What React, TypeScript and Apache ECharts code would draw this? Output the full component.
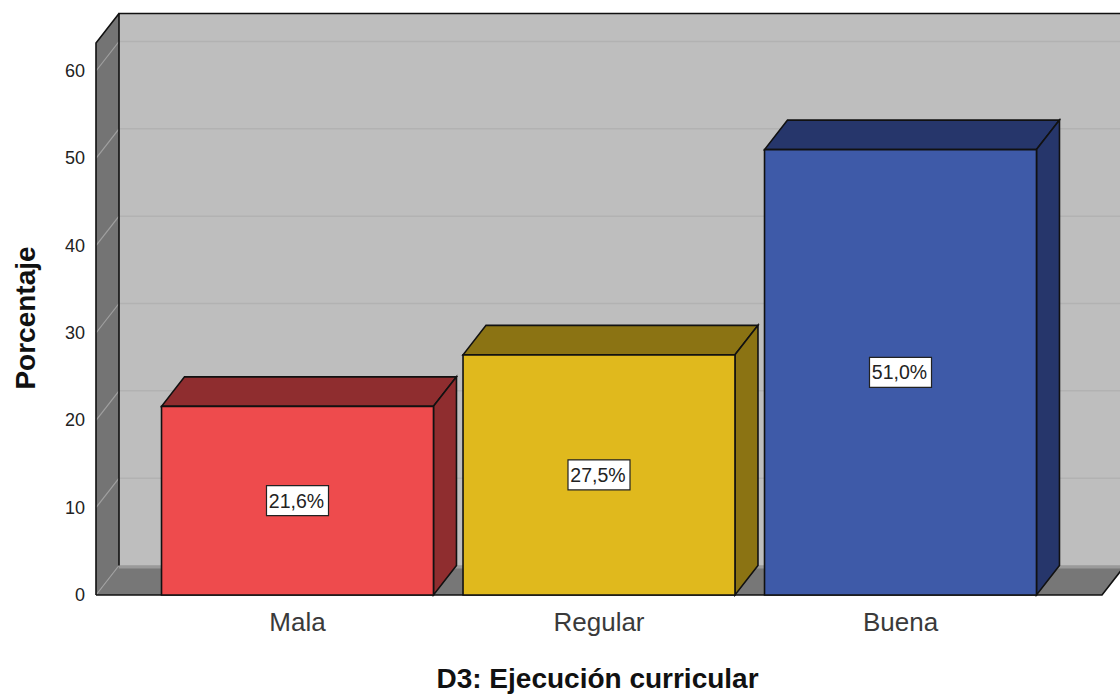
import React, { useEffect, useRef } from "react";
import * as echarts from "echarts";

const categories = ["Mala", "Regular", "Buena"];
const percentages = [21.6, 27.5, 51.0];
const yTicks = [0, 10, 20, 30, 40, 50, 60];
const frontColors = ["#EE4B4D", "#E0B91D", "#3E5AA8"];
const shadeColors = ["#8F2D2F", "#8B7313", "#26366B"];

const DX = 23;
const DY = -29.5;
const WALL_TOP_VALUE = 63.2;
const FONT = '"Liberation Sans", Arial, sans-serif';
const EDGE = "#111111";

export default function App() {
  const ref = useRef<HTMLDivElement>(null);
  useEffect(() => {
    const chart = echarts.init(ref.current!, null, { renderer: "svg" });
    const gridLeft = 146.75;
    const gridWidth = 904.5;
    const wallLeft = 96;
    const floorRight = 1102;
    chart.setOption({
      animation: false,
      backgroundColor: "#ffffff",
      grid: { left: gridLeft, width: gridWidth, top: 71, height: 524, containLabel: false, outerBoundsMode: "none" },
      xAxis: {
        type: "category",
        data: categories,
        axisLine: { show: false },
        axisTick: { show: false },
        axisLabel: { color: "#3a3a3a", fontFamily: FONT, fontSize: 26, margin: 14 },
        name: "D3: Ejecución curricular",
        nameLocation: "middle",
        nameGap: 69,
        nameTextStyle: { color: "#111111", fontFamily: FONT, fontSize: 28, fontWeight: "bold", padding: [0, 3, 0, 0] },
      },
      yAxis: {
        type: "value",
        min: 0,
        max: 60,
        interval: 10,
        offset: gridLeft - wallLeft,
        axisLine: { show: false },
        axisTick: { show: false },
        splitLine: { show: false },
        axisLabel: { color: "#222222", fontFamily: FONT, fontSize: 18, margin: 11, padding: [6, 0, 0, 0] },
      },
      graphic: [
        {
          type: "text",
          x: 25,
          y: 318,
          rotation: Math.PI / 2,
          style: {
            text: "Porcentaje",
            font: `bold 28px ${FONT}`,
            fill: "#111111",
            align: "center",
            verticalAlign: "middle",
          },
        },
      ],
      series: [
        {
          type: "custom",
          z: 1,
          silent: true,
          data: [[0, 0]],
          encode: { x: 0, y: 1 },
          renderItem: (_p: any, api: any) => {
            const y0 = api.coord([0, 0])[1];
            const yt = api.coord([0, WALL_TOP_VALUE])[1];
            const bx = wallLeft + DX;
            return {
              type: "group",
              children: [
                { type: "rect", shape: { x: bx, y: yt + DY, width: 1120 - bx, height: y0 - yt }, style: { fill: "#BEBEBE" } },
                { type: "polygon", shape: { points: [[wallLeft, y0], [bx, y0 + DY], [bx, yt + DY], [wallLeft, yt]] }, style: { fill: "#747474" } },
                { type: "polygon", shape: { points: [[wallLeft, y0], [floorRight, y0], [floorRight + DX, y0 + DY], [bx, y0 + DY]] }, style: { fill: "#777777" } },
                { type: "rect", shape: { x: bx, y: y0 + DY, width: 1120 - bx, height: 3 }, style: { fill: "#9A9A9A" } },
              ],
            };
          },
        },
        {
          type: "custom",
          z: 2,
          silent: true,
          data: yTicks.map((t) => [0, t]),
          encode: { x: 0, y: 1 },
          renderItem: (_p: any, api: any) => {
            const y = api.coord([0, api.value(1)])[1];
            const bx = wallLeft + DX;
            const children: any[] = [
              { type: "line", shape: { x1: wallLeft, y1: y, x2: bx, y2: y + DY }, style: { stroke: "#A0A0A0", lineWidth: 1.2 } },
            ];
            if (api.value(1) > 0) {
              children.push({ type: "line", shape: { x1: bx, y1: y + DY, x2: 1120, y2: y + DY }, style: { stroke: "#B2B2B2", lineWidth: 1.5 } });
            }
            return { type: "group", children };
          },
        },
        {
          type: "custom",
          z: 3,
          silent: true,
          data: [[0, 0]],
          encode: { x: 0, y: 1 },
          renderItem: (_p: any, api: any) => {
            const y0 = api.coord([0, 0])[1];
            const yt = api.coord([0, WALL_TOP_VALUE])[1];
            const bx = wallLeft + DX;
            const s = { stroke: EDGE, lineWidth: 1.6, fill: "none" };
            return {
              type: "group",
              children: [
                { type: "polyline", shape: { points: [[bx, y0 + DY], [bx, yt + DY], [1120, yt + DY]] }, style: s },
                { type: "polyline", shape: { points: [[wallLeft, y0], [wallLeft, yt], [bx, yt + DY]] }, style: s },
                { type: "polyline", shape: { points: [[wallLeft, y0], [floorRight, y0], [floorRight + DX, y0 + DY]] }, style: s },
              ],
            };
          },
        },
        {
          type: "custom",
          z: 4,
          silent: true,
          data: categories.map((_c, i) => [i, percentages[i]]),
          encode: { x: 0, y: 1 },
          renderItem: (p: any, api: any) => {
            const i = api.value(0);
            const v = api.value(1);
            const [cx, yTop] = api.coord([i, v]);
            const y0 = api.coord([i, 0])[1];
            const w = api.size([1, 0])[0] * 0.902;
            const l = cx - w / 2;
            const r = cx + w / 2;
            const edge = { stroke: EDGE, lineWidth: 1.6 };
            const yMid = api.coord([i, v / 2])[1];
            const text = v.toFixed(1).replace(".", ",") + "%";
            return {
              type: "group",
              children: [
                { type: "polygon", shape: { points: [[l, yTop], [r, yTop], [r + DX, yTop + DY], [l + DX, yTop + DY]] }, style: { fill: shadeColors[i], ...edge } },
                { type: "polygon", shape: { points: [[r, yTop], [r + DX, yTop + DY], [r + DX, y0 + DY], [r, y0]] }, style: { fill: shadeColors[i], ...edge } },
                { type: "rect", shape: { x: l, y: yTop, width: w, height: y0 - yTop }, style: { fill: frontColors[i], ...edge } },
                { type: "rect", shape: { x: cx - 31, y: yMid - 15, width: 62, height: 30 }, style: { fill: "#ffffff", stroke: "#222222", lineWidth: 1.2 } },
                { type: "text", style: { text, x: cx - 1, y: yMid, align: "center", verticalAlign: "middle", font: `19.5px ${FONT}`, fill: "#222222" } },
              ],
            };
          },
        },
      ],
    });
    return () => chart.dispose();
  }, []);
  return <div ref={ref} style={{ position: "absolute", left: 0, top: 0, width: 1120, height: 696 }} />;
}
